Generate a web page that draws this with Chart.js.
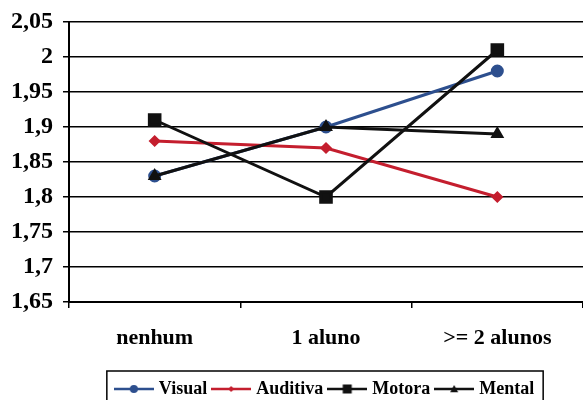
<!DOCTYPE html>
<html>
<head>
<meta charset="utf-8">
<script src="https://cdn.jsdelivr.net/npm/chart.js@4.4.1/dist/chart.umd.min.js"></script>
<style>
  html, body { margin: 0; padding: 0; background: #ffffff; }
  #wrap { width: 583px; height: 400px; }
</style>
</head>
<body>
<div id="wrap"><canvas id="c" width="583" height="400"></canvas></div>
<script>
// Categories (número de alunos com deficiência na turma)
const categories = ['nenhum', '1 aluno', '>= 2 alunos'];

// Series values
const visual   = [1.83, 1.90, 1.98];
const auditiva = [1.88, 1.87, 1.80];
const motora   = [1.91, 1.80, 2.01];
const mental   = [1.83, 1.90, 1.89];

// Y axis tick values
const yTicks = [1.65, 1.70, 1.75, 1.80, 1.85, 1.90, 1.95, 2.00, 2.05];

const serif = '"Liberation Serif", "Times New Roman", serif';

// Legend swatch: a short line with the series marker in the middle
function swatch(color, style, size) {
  const w = 40, h = 14, cx = w / 2, cy = h / 2;
  const cv = document.createElement('canvas');
  cv.width = w; cv.height = h;
  const g = cv.getContext('2d');
  g.strokeStyle = color; g.fillStyle = color; g.lineWidth = 2.5;
  g.beginPath(); g.moveTo(0, cy); g.lineTo(w, cy); g.stroke();
  g.beginPath();
  if (style === 'circle') { g.arc(cx, cy, size, 0, Math.PI * 2); g.fill(); }
  else if (style === 'rect') { g.fillRect(cx - size, cy - size, size * 2, size * 2); }
  else if (style === 'rectRot') { g.moveTo(cx, cy - size); g.lineTo(cx + size, cy); g.lineTo(cx, cy + size); g.lineTo(cx - size, cy); g.closePath(); g.fill(); }
  else if (style === 'triangle') { g.moveTo(cx, cy - size); g.lineTo(cx + size, cy + size * 0.8); g.lineTo(cx - size, cy + size * 0.8); g.closePath(); g.fill(); }
  return cv;
}

const blue = '#2d4f8e';
const red = '#c41e2e';
const black = '#111111';

// Frame drawn around the legend entries
const legendBorder = {
  id: 'legendBorder',
  afterDraw(chart) {
    const boxes = chart.legend && chart.legend.legendHitBoxes;
    if (!boxes || !boxes.length) return;
    let l = Infinity, r = -Infinity, t = Infinity;
    boxes.forEach(h => { l = Math.min(l, h.left); r = Math.max(r, h.left + h.width); t = Math.min(t, h.top); });
    const ctx = chart.ctx;
    ctx.save();
    ctx.strokeStyle = '#000'; ctx.lineWidth = 1.5;
    ctx.strokeRect(l - 11, t - 9, (r - l) + 20, chart.height - t + 12);
    ctx.restore();
  }
};

new Chart(document.getElementById('c'), {
  type: 'line',
  data: {
    labels: categories,
    datasets: [
      { label: 'Visual', data: visual, borderColor: blue, backgroundColor: blue, pointStyle: 'circle', pointRadius: 5, borderWidth: 3, order: 3, legendImg: swatch(blue, 'circle', 4) },
      { label: 'Auditiva', data: auditiva, borderColor: red, backgroundColor: red, pointStyle: 'rectRot', pointRadius: 4, borderWidth: 3, order: 2, legendImg: swatch(red, 'rectRot', 3) },
      { label: 'Motora', data: motora, borderColor: black, backgroundColor: black, pointStyle: 'rect', pointRadius: 7.5, borderWidth: 3, order: 1, legendImg: swatch(black, 'rect', 4.5) },
      { label: 'Mental', data: mental, borderColor: black, backgroundColor: black, pointStyle: 'triangle', pointRadius: 5, borderWidth: 3, order: 0, legendImg: swatch(black, 'triangle', 4) }
    ]
  },
  options: {
    responsive: false,
    animation: false,
    layout: { autoPadding: false, padding: { left: 1, right: 0, top: 6, bottom: -8 } },
    elements: { line: { tension: 0 }, point: { borderWidth: 0 } },
    scales: {
      x: {
        offset: true,
        afterFit(scale) { scale.height = 70; },
        grid: { offset: true, drawOnChartArea: false, drawTicks: true, tickLength: 6, color: '#000', lineWidth: 1.5 },
        border: { display: true, color: '#000', width: 2 },
        ticks: { color: '#000', padding: 17, font: { family: serif, size: 22, weight: 'bold' } }
      },
      y: {
        min: 1.65, max: 2.05,
        afterBuildTicks(scale) { scale.ticks = yTicks.map(v => ({ value: v })); },
        grid: { color: '#000', lineWidth: 1.5, tickLength: 6 },
        border: { display: true, color: '#000', width: 2 },
        ticks: {
          color: '#000', padding: 10,
          font: { family: serif, size: 24, weight: 'bold', lineHeight: 1 },
          callback: v => String(Number(v.toFixed(2))).replace('.', ',')
        }
      }
    },
    plugins: {
      tooltip: { enabled: false },
      legend: {
        position: 'bottom',
        fullSize: false,
        labels: {
          usePointStyle: true,
          pointStyleWidth: 32,
          padding: 8,
          color: '#000',
          font: { family: serif, size: 18, weight: 'bold' },
          generateLabels(chart) {
            return chart.data.datasets.map((ds, i) => ({
              text: ds.label, pointStyle: ds.legendImg, datasetIndex: i,
              fillStyle: ds.borderColor, strokeStyle: ds.borderColor, lineWidth: 0, hidden: false
            }));
          }
        }
      }
    }
  },
  plugins: [legendBorder]
});
</script>
</body>
</html>
